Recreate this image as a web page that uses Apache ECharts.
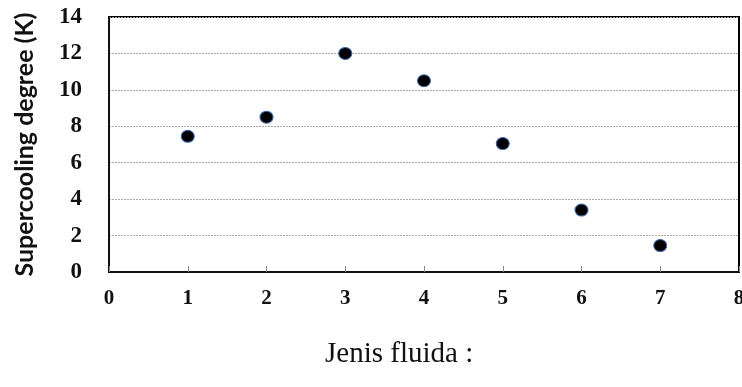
<!DOCTYPE html>
<html>
<head>
<meta charset="utf-8">
<script src="https://cdn.jsdelivr.net/npm/echarts@6/dist/echarts.min.js"></script>
<style>
  html, body { margin: 0; padding: 0; background: #fff; }
  #chart { width: 742px; height: 387px; }
</style>
</head>
<body>
<div id="chart"></div>
<script>
// Fluid type index on the x axis, supercooling degree (K) on the y axis
const fluidIndex = [1, 2, 3, 4, 5, 6, 7];
const supercooling = [7.45, 8.5, 12.0, 10.5, 7.05, 3.4, 1.45];
const xAxisTitle = 'Jenis fluida :';
const yAxisTitle = 'Supercooling degree (K)';

const points = fluidIndex.map((x, i) => [x, supercooling[i]]);

const chart = echarts.init(document.getElementById('chart'), null, { renderer: 'canvas' });
chart.setOption({
  animation: false,
  backgroundColor: '#ffffff',
  grid: {
    left: 109, right: 3, top: 17, bottom: 115,
    outerBoundsMode: 'none', containLabel: false,
    show: true, borderColor: '#000', borderWidth: 2, backgroundColor: 'transparent'
  },
  xAxis: {
    type: 'value', min: 0, max: 8, interval: 1,
    axisLine: { onZero: false, lineStyle: { color: '#111', width: 2 } },
    axisTick: { show: true, inside: true, length: 6, lineStyle: { color: '#888', width: 1 } },
    splitLine: { show: false },
    axisLabel: {
      margin: 16, color: '#111', fontFamily: 'Liberation Serif', fontWeight: 'bold', fontSize: 21
    }
  },
  yAxis: {
    type: 'value', min: 0, max: 14, interval: 2,
    name: yAxisTitle, nameLocation: 'middle', nameRotate: 90, nameGap: 72,
    nameTextStyle: { fontFamily: 'Lato', fontWeight: 'bold', fontSize: 25, color: '#111' },
    axisLine: { lineStyle: { color: '#111', width: 2 } },
    axisTick: { show: false },
    splitLine: { show: true, lineStyle: { color: '#aaa', width: 1, type: [2, 1] } },
    axisLabel: {
      margin: 27, color: '#111', fontFamily: 'Liberation Serif', fontWeight: 'bold', fontSize: 23
    }
  },
  graphic: [{
    type: 'text', left: 325, top: 340,
    style: { text: xAxisTitle, fontFamily: 'Liberation Serif', fontSize: 29, fill: '#111' }
  }],
  series: [{
    type: 'scatter',
    data: points,
    symbol: 'circle',
    symbolSize: [13, 12],
    itemStyle: { color: '#000', borderColor: '#3a64a8', borderWidth: 1, opacity: 1 }
  }]
});
</script>
</body>
</html>
